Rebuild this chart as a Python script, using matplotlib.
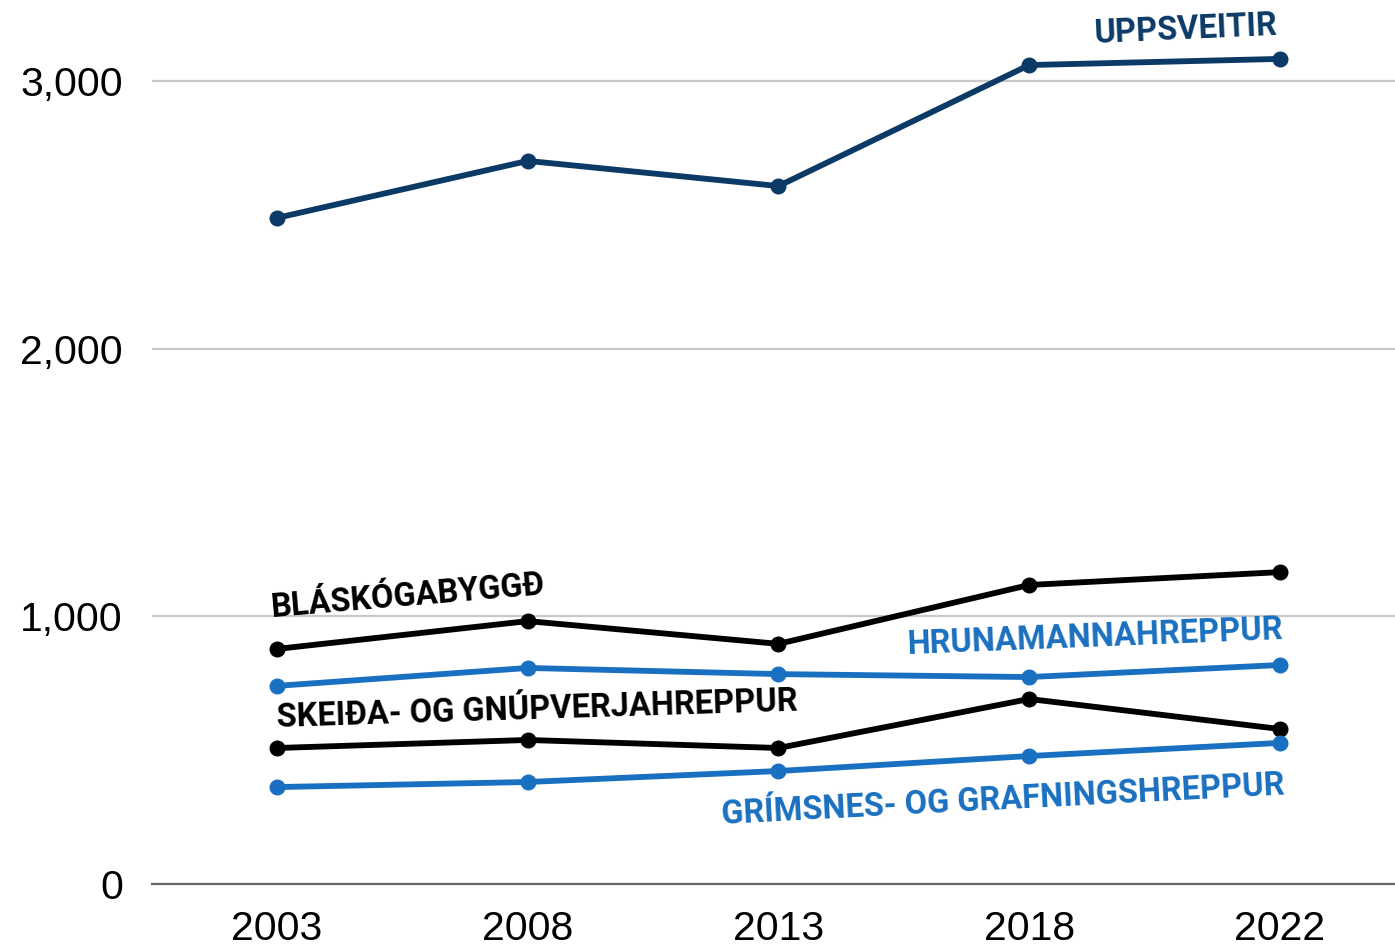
import matplotlib
matplotlib.use("Agg")
import matplotlib.pyplot as plt
from matplotlib.ticker import FuncFormatter

years = ["2003", "2008", "2013", "2018", "2022"]
uppsveitir = [2488, 2701, 2607, 3059, 3082]
blaskogabyggd = [878, 982, 897, 1117, 1165]
hrunamannahreppur = [740, 807, 784, 773, 818]
skeida = [508, 538, 508, 691, 579]
grimsnes = [362, 381, 422, 478, 527]

NAVY = "#0b3a66"
BLUE = "#1a70c0"
BLACK = "#000000"

plt.rcParams['font.family'] = ['Liberation Sans', 'DejaVu Sans']

fig = plt.figure(figsize=(13.95, 9.48), dpi=100)
ax = fig.add_axes([152/1395, 64/948, 1 - 152/1395, 884/948])

x = list(range(len(years)))
series = [
    (uppsveitir, NAVY),
    (blaskogabyggd, BLACK),
    (hrunamannahreppur, BLUE),
    (skeida, BLACK),
    (grimsnes, BLUE),
]
for vals, c in series:
    ax.plot(x, vals, color=c, lw=4.2, marker='o', markersize=10.5, zorder=3,
            solid_capstyle='round')

ax.set_xlim(-0.4985, 4.459)
ax.set_ylim(0, 3302)
ax.set_yticks([0, 1000, 2000, 3000])
ax.yaxis.set_major_formatter(FuncFormatter(lambda v, p: f"{int(v):,}"))
ax.set_xticks(x)
ax.set_xticklabels(years)
ax.tick_params(axis='both', length=0, labelsize=29.5)
ax.tick_params(axis='y', pad=21)
ax.tick_params(axis='x', pad=19)
ax.grid(axis='y', color='#c8c8c8', lw=1.6, zorder=0)
for s in ['top', 'right', 'left']:
    ax.spines[s].set_visible(False)
ax.spines['bottom'].set_color('#666666')
ax.spines['bottom'].set_linewidth(1.6)
ax.set_axisbelow(True)

def px(xp, yp):
    # convert pixel position to figure fraction
    return xp / 1395, 1 - yp / 948

labels = [
    ("UPPSVEITIR", 1185, 30, 2.6, NAVY),
    ("BLÁSKÓGABYGGÐ", 408, 597, 4.8, BLACK),
    ("HRUNAMANNAHREPPUR", 1095, 637, 2.3, BLUE),
    ("SKEIÐA- OG GNÚPVERJAHREPPUR", 537, 710, 1.8, BLACK),
    ("GRÍMSNES- OG GRAFNINGSHREPPUR", 1003, 800, 3.0, BLUE),
]
for t, xp, yp, rot, c in labels:
    fx, fy = px(xp, yp)
    fig.text(fx, fy, t, color=c, fontsize=23.5, fontweight='bold', rotation=rot,
             ha='center', va='center', rotation_mode='anchor',
             family=['Roboto', 'DejaVu Sans'])

fig.savefig("out.png", dpi=100)
